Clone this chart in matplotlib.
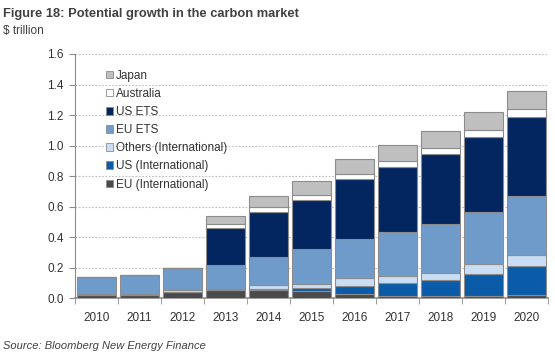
import numpy as np
import matplotlib.pyplot as plt
from matplotlib.patches import Patch

plt.rcParams['font.family'] = ['Liberation Sans', 'DejaVu Sans']

years = ['2010', '2011', '2012', '2013', '2014', '2015', '2016', '2017', '2018', '2019', '2020']

# $ trillion, bottom to top
eu_int = [0.020, 0.020, 0.040, 0.052, 0.055, 0.046, 0.024, 0.013, 0.013, 0.015, 0.020]
us_int = [0.000, 0.000, 0.000, 0.000, 0.005, 0.020, 0.055, 0.087, 0.105, 0.140, 0.192]
others_int = [0.005, 0.005, 0.015, 0.005, 0.025, 0.028, 0.050, 0.046, 0.048, 0.070, 0.072]
eu_ets = [0.115, 0.128, 0.145, 0.158, 0.182, 0.227, 0.258, 0.285, 0.321, 0.341, 0.385]
us_ets = [0.000, 0.000, 0.000, 0.242, 0.299, 0.322, 0.395, 0.426, 0.455, 0.492, 0.520]
australia = [0.000, 0.000, 0.000, 0.026, 0.029, 0.032, 0.029, 0.039, 0.044, 0.042, 0.048]
japan = [0.000, 0.000, 0.000, 0.057, 0.074, 0.092, 0.100, 0.105, 0.109, 0.120, 0.122]

series = [
    ('EU (International)', eu_int, '#4a4a4a'),
    ('US (International)', us_int, '#0a5ca8'),
    ('Others (International)', others_int, '#c9def4'),
    ('EU ETS', eu_ets, '#6f9bcb'),
    ('US ETS', us_ets, '#032660'),
    ('Australia', australia, '#ffffff'),
    ('Japan', japan, '#bfbfbf'),
]

fig = plt.figure(figsize=(5.55, 3.6), dpi=100)
ax = fig.add_axes([0.135, 0.172, 0.853, 0.678])

x = np.arange(len(years))
bottom = np.zeros(len(years))
handles = []
for name, vals, col in series:
    vals = np.array(vals)
    ax.bar(x, vals, bottom=bottom, width=0.91, color=col, edgecolor='#8c8c8c', linewidth=0.8, zorder=3)
    bottom += vals
    handles.append(Patch(facecolor=col, edgecolor='#8c8c8c', linewidth=0.6, label=name))

ax.set_ylim(0, 1.6)
ax.set_xlim(-0.5, len(years) - 0.5)
ax.set_yticks(np.arange(0, 1.61, 0.2))
ax.set_yticklabels([f'{v:.1f}' for v in np.arange(0, 1.61, 0.2)])
ax.set_xticks(x)
ax.set_xticklabels(years)
ax.set_xticks(np.arange(-0.5, len(years), 1), minor=True)
ax.tick_params(axis='x', which='major', length=0, pad=10, labelsize=8.5, colors='#333333')
ax.tick_params(axis='x', which='minor', length=4, color='#8c8c8c')
ax.tick_params(axis='y', length=4, color='#8c8c8c', labelsize=8.5, labelcolor='#333333', pad=4)

ax.yaxis.grid(True, linestyle=(0, (1.5, 1.5)), color='#bdbdbd', linewidth=0.8, zorder=0)
for s in ['top', 'right']:
    ax.spines[s].set_visible(False)
ax.spines['left'].set_color('#8c8c8c')
ax.spines['bottom'].set_color('#8c8c8c')
ax.spines['bottom'].set_linewidth(1.2)

leg = ax.legend(handles=handles[::-1], loc='upper left', bbox_to_anchor=(0.055, 0.955),
                frameon=False, fontsize=8.5, handlelength=0.6, handleheight=0.6,
                handletextpad=0.3, labelspacing=0.52, borderaxespad=0)
for t in leg.get_texts():
    t.set_color('#333333')

fig.text(0.006, 0.962, 'Figure 18: Potential growth in the carbon market', fontsize=9.3,
         fontweight='bold', color='#404040', va='center')
fig.text(0.006, 0.915, '$ trillion', fontsize=8.5, color='#404040', va='center')
fig.text(0.006, 0.04, 'Source: Bloomberg New Energy Finance', fontsize=8, style='italic',
         color='#404040', va='center')

fig.savefig('out.png', dpi=100)
